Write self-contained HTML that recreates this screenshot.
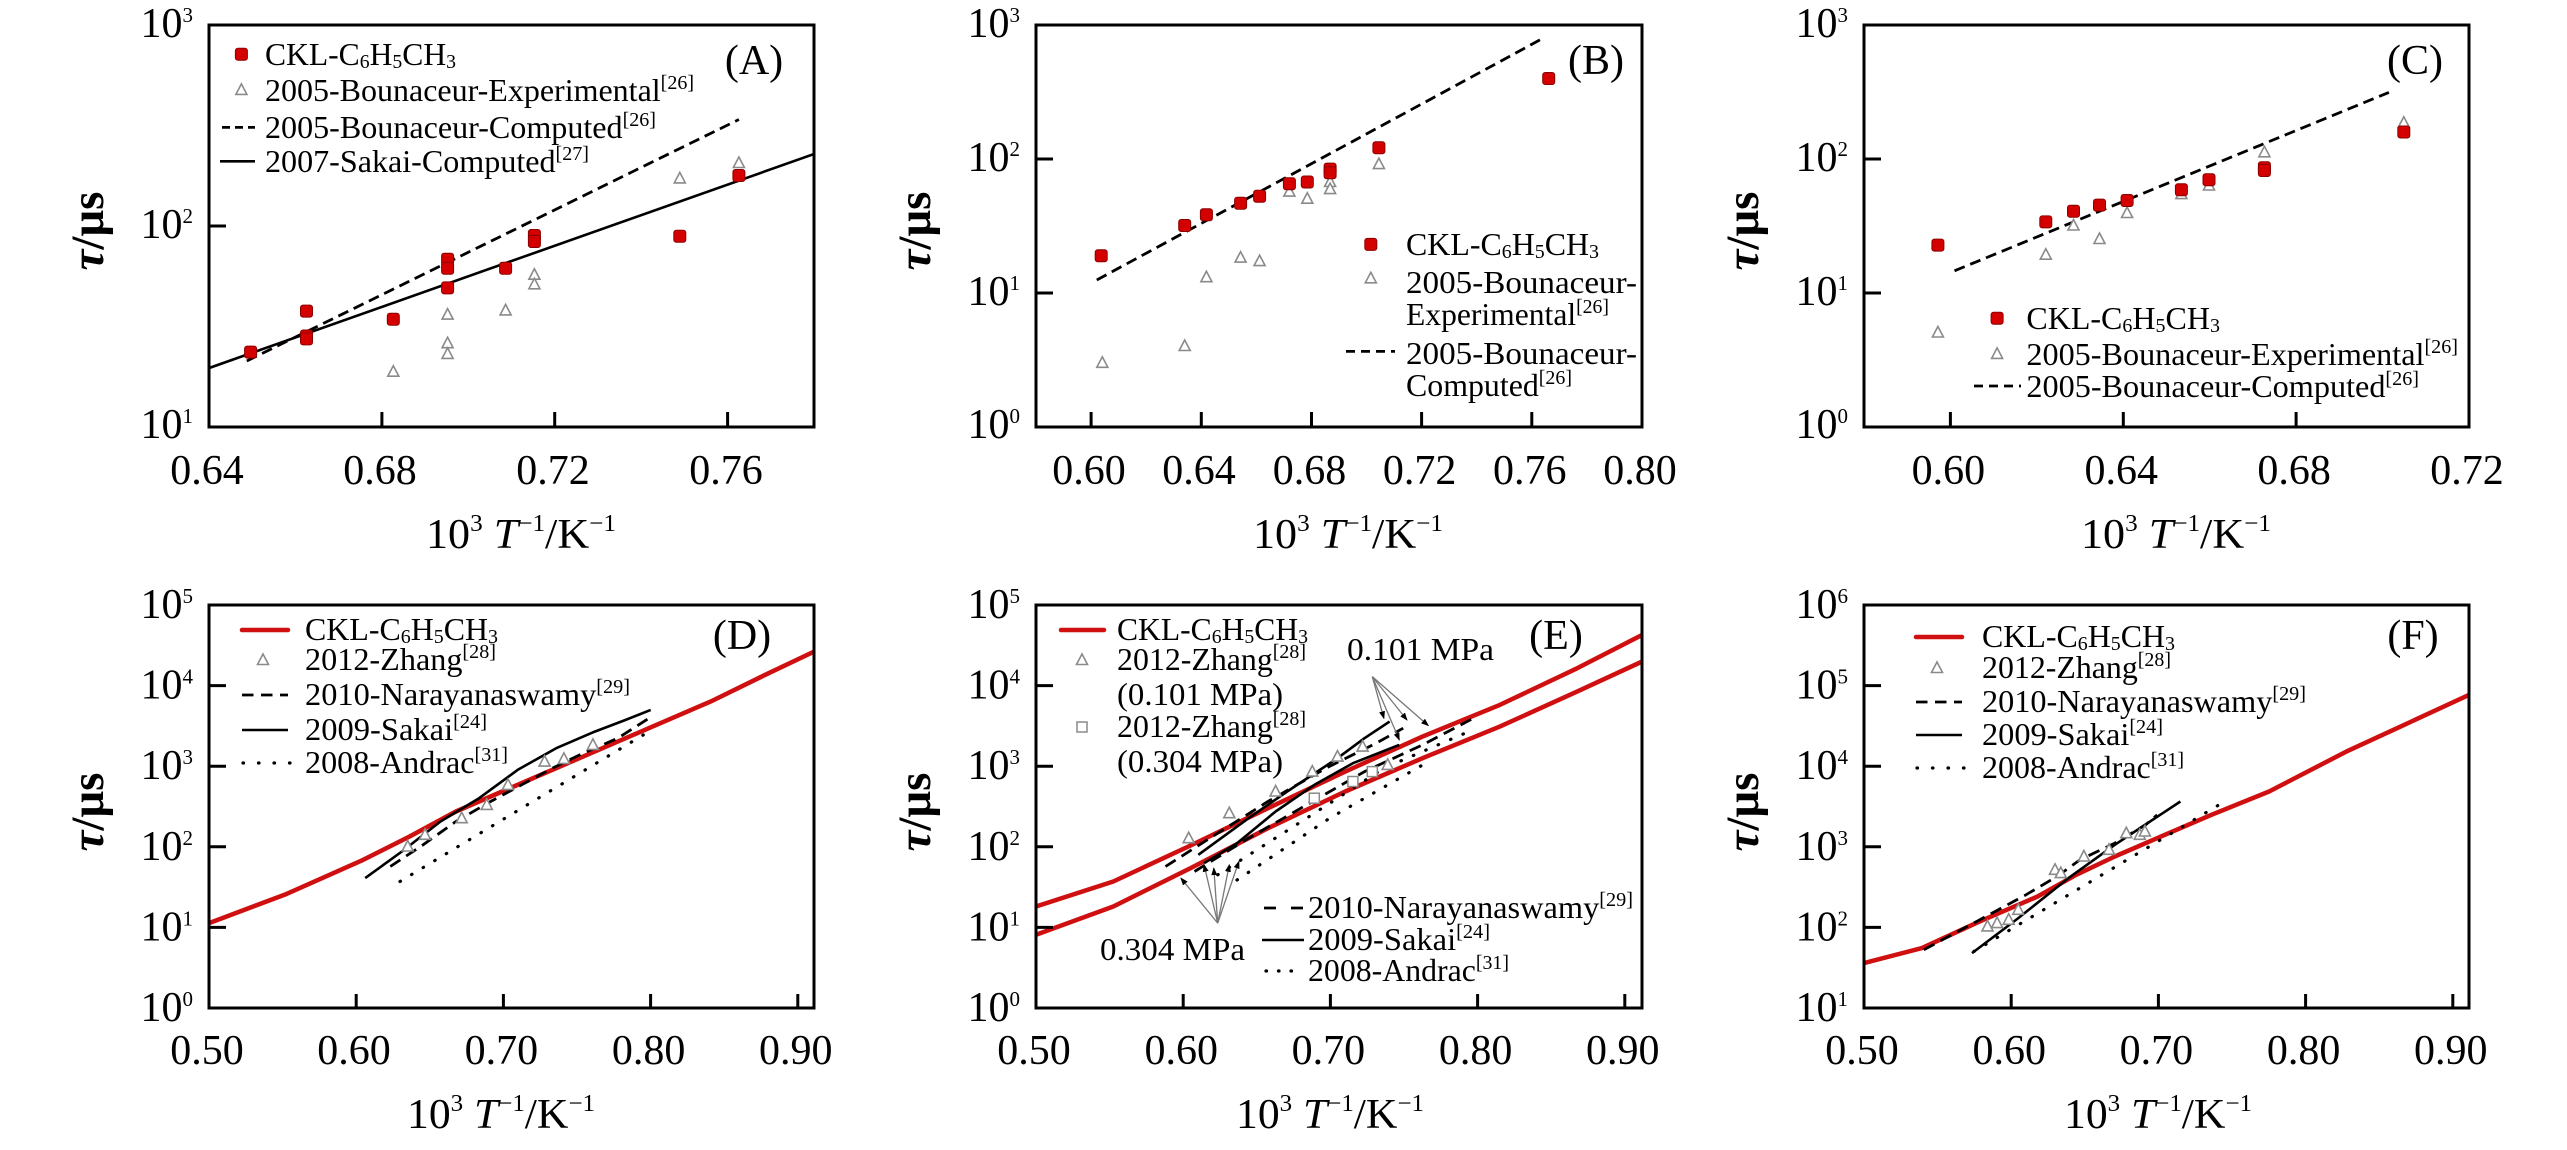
<!DOCTYPE html>
<html>
<head>
<meta charset="utf-8">
<style>
html,body{margin:0;padding:0;background:#fff;}
svg{display:block;}
text{font-family:"Liberation Serif","Times New Roman",serif;fill:#000;}
.tk{font-size:42px;}
.sp{font-size:21px;}
.xt{font-size:42px;}
.s2{font-size:24px;}
.yt{font-size:47px;font-weight:bold;}
.lg{font-size:32px;}
.su{font-size:20px;}
.sb{font-size:20px;}
.pl{font-size:42px;}
.box{fill:none;stroke:#000;stroke-width:3;}
.tm{stroke:#000;stroke-width:3;}
.red{fill:none;stroke:#d01010;stroke-width:4.5;stroke-linejoin:round;stroke-linecap:round;}
.sol{fill:none;stroke:#000;stroke-width:2.6;stroke-linejoin:round;}
.dsh{fill:none;stroke:#000;stroke-width:2.8;stroke-dasharray:12 7;}
.dot{fill:none;stroke:#000;stroke-width:3.2;stroke-dasharray:0.5 13;stroke-linecap:round;}
.ann{fill:none;stroke:#777;stroke-width:1.3;}
</style>
</head>
<body>
<svg width="2567" height="1150" viewBox="0 0 2567 1150" xmlns="http://www.w3.org/2000/svg">
<defs>
  <g id="sq"><rect x="-6" y="-6" width="12" height="12" rx="2.5" fill="#d40000" stroke="#8a0000" stroke-width="1"/></g>
  <g id="tri"><path d="M0,-6 L5.5,4.5 L-5.5,4.5 Z" fill="#fff" stroke="#8a8a8a" stroke-width="1.6"/></g>
  <g id="sqo"><rect x="-5" y="-5" width="10" height="10" fill="#fff" stroke="#8a8a8a" stroke-width="1.5"/></g>
  <marker id="ah" markerWidth="8" markerHeight="8" refX="7" refY="4" orient="auto" markerUnits="userSpaceOnUse">
    <path d="M0,1 L8,4 L0,7 Z" fill="#000"/>
  </marker>
  <clipPath id="cA"><rect x="209" y="25" width="605" height="402"/></clipPath>
  <clipPath id="cB"><rect x="1036" y="25" width="606" height="402"/></clipPath>
  <clipPath id="cC"><rect x="1864" y="25" width="605" height="402"/></clipPath>
  <clipPath id="cD"><rect x="209" y="605" width="605" height="403"/></clipPath>
  <clipPath id="cE"><rect x="1036" y="605" width="606" height="403"/></clipPath>
  <clipPath id="cF"><rect x="1864" y="605" width="605" height="403"/></clipPath>
</defs>

<!-- ================= PANEL A ================= -->
<g>
  <g clip-path="url(#cA)">
    <polyline class="sol" points="208.9,368.1 813.8,154.1"/>
    <polyline class="dsh" style="stroke-dasharray:11 6" points="246.8,361 738.9,119.5"/>
    <use href="#tri" x="393.3" y="371.7"/>
    <use href="#tri" x="447.6" y="314.6"/>
    <use href="#tri" x="447.6" y="343.2"/>
    <use href="#tri" x="447.6" y="353.9"/>
    <use href="#tri" x="505.6" y="310.4"/>
    <use href="#tri" x="534.4" y="274.7"/>
    <use href="#tri" x="534.4" y="284.3"/>
    <use href="#tri" x="679.8" y="178.4"/>
    <use href="#tri" x="738.9" y="163"/>
    <use href="#sq" x="250.6" y="352.1"/>
    <use href="#sq" x="306.5" y="311.1"/>
    <use href="#sq" x="306.5" y="336"/>
    <use href="#sq" x="306.5" y="338.9"/>
    <use href="#sq" x="393.3" y="319.3"/>
    <use href="#sq" x="447.6" y="259.3"/>
    <use href="#sq" x="447.6" y="268.3"/>
    <use href="#sq" x="447.6" y="287.9"/>
    <use href="#sq" x="505.6" y="268.3"/>
    <use href="#sq" x="534.4" y="235.5"/>
    <use href="#sq" x="534.4" y="241.5"/>
    <use href="#sq" x="679.8" y="236.2"/>
    <use href="#sq" x="738.9" y="175.5"/>
  </g>
  <rect class="box" x="209" y="25" width="605" height="402"/>
  <line class="tm" x1="381.9" y1="427" x2="381.9" y2="412"/>
  <line class="tm" x1="554.7" y1="427" x2="554.7" y2="412"/>
  <line class="tm" x1="727.6" y1="427" x2="727.6" y2="412"/>
  <line class="tm" x1="209" y1="226" x2="226" y2="226"/>
  <text class="tk" x="207" y="484" text-anchor="middle">0.64</text>
  <text class="tk" x="380" y="484" text-anchor="middle">0.68</text>
  <text class="tk" x="553" y="484" text-anchor="middle">0.72</text>
  <text class="tk" x="726" y="484" text-anchor="middle">0.76</text>
  <text class="tk" x="193" y="37" text-anchor="end">10<tspan class="sp" dy="-15">3</tspan></text>
  <text class="tk" x="193" y="238" text-anchor="end">10<tspan class="sp" dy="-15">2</tspan></text>
  <text class="tk" x="193" y="438" text-anchor="end">10<tspan class="sp" dy="-15">1</tspan></text>
  <text class="yt" transform="translate(103,231) rotate(-90)" text-anchor="middle"><tspan font-style="italic">τ</tspan>/μs</text>
  <text class="xt" x="521" y="548" text-anchor="middle" textLength="190" lengthAdjust="spacingAndGlyphs">10<tspan class="s2" dy="-17">3</tspan><tspan dy="17" font-style="italic"> T</tspan><tspan class="s2" dy="-17">−1</tspan><tspan dy="17">/K</tspan><tspan class="s2" dy="-17">−1</tspan></text>
  <text class="pl" x="754" y="74" text-anchor="middle">(A)</text>
  <!-- legend -->
  <use href="#sq" x="241.4" y="54.2"/>
  <text class="lg" x="265" y="65" textLength="191" lengthAdjust="spacingAndGlyphs">CKL-C<tspan class="sb" dy="3">6</tspan><tspan dy="-3">H</tspan><tspan class="sb" dy="3">5</tspan><tspan dy="-3">CH</tspan><tspan class="sb" dy="3">3</tspan></text>
  <use href="#tri" x="241.4" y="89.9"/>
  <text class="lg" x="265" y="101" textLength="429" lengthAdjust="spacingAndGlyphs">2005-Bounaceur-Experimental<tspan class="su" dy="-12">[26]</tspan></text>
  <line class="dsh" style="stroke-dasharray:8 5" x1="222" y1="127.4" x2="255" y2="127.4"/>
  <text class="lg" x="265" y="138" textLength="391" lengthAdjust="spacingAndGlyphs">2005-Bounaceur-Computed<tspan class="su" dy="-12">[26]</tspan></text>
  <line class="sol" x1="220" y1="161.3" x2="255" y2="161.3"/>
  <text class="lg" x="265" y="172" textLength="324" lengthAdjust="spacingAndGlyphs">2007-Sakai-Computed<tspan class="su" dy="-12">[27]</tspan></text>
</g>

<!-- ================= PANEL B ================= -->
<g>
  <g clip-path="url(#cB)">
    <polyline class="dsh" style="stroke-dasharray:11 6" points="1096.8,280 1544.4,37.5"/>
    <use href="#tri" x="1102.3" y="362.8"/>
    <use href="#tri" x="1184.7" y="346"/>
    <use href="#tri" x="1206.4" y="277.2"/>
    <use href="#tri" x="1240.6" y="257.6"/>
    <use href="#tri" x="1259.6" y="261.1"/>
    <use href="#tri" x="1289.4" y="191.6"/>
    <use href="#tri" x="1307.3" y="198.7"/>
    <use href="#tri" x="1330.1" y="182"/>
    <use href="#tri" x="1330.1" y="189.1"/>
    <use href="#tri" x="1378.9" y="164.1"/>
    <use href="#sq" x="1101.2" y="255.8"/>
    <use href="#sq" x="1184.7" y="225.5"/>
    <use href="#sq" x="1206.4" y="214.8"/>
    <use href="#sq" x="1240.6" y="203.3"/>
    <use href="#sq" x="1259.6" y="196.2"/>
    <use href="#sq" x="1289.4" y="183.7"/>
    <use href="#sq" x="1307.3" y="182"/>
    <use href="#sq" x="1330.1" y="169.1"/>
    <use href="#sq" x="1330.1" y="172.7"/>
    <use href="#sq" x="1378.9" y="147.7"/>
    <use href="#sq" x="1548.7" y="78.5"/>
  </g>
  <rect class="box" x="1036" y="25" width="606" height="402"/>
  <line class="tm" x1="1091.1" y1="427" x2="1091.1" y2="412"/>
  <line class="tm" x1="1201.3" y1="427" x2="1201.3" y2="412"/>
  <line class="tm" x1="1311.5" y1="427" x2="1311.5" y2="412"/>
  <line class="tm" x1="1421.6" y1="427" x2="1421.6" y2="412"/>
  <line class="tm" x1="1531.8" y1="427" x2="1531.8" y2="412"/>
  <line class="tm" x1="1036" y1="159" x2="1053" y2="159"/>
  <line class="tm" x1="1036" y1="293" x2="1053" y2="293"/>
  <text class="tk" x="1089" y="484" text-anchor="middle">0.60</text>
  <text class="tk" x="1199" y="484" text-anchor="middle">0.64</text>
  <text class="tk" x="1309.5" y="484" text-anchor="middle">0.68</text>
  <text class="tk" x="1419.6" y="484" text-anchor="middle">0.72</text>
  <text class="tk" x="1529.8" y="484" text-anchor="middle">0.76</text>
  <text class="tk" x="1640" y="484" text-anchor="middle">0.80</text>
  <text class="tk" x="1020" y="37" text-anchor="end">10<tspan class="sp" dy="-15">3</tspan></text>
  <text class="tk" x="1020" y="171" text-anchor="end">10<tspan class="sp" dy="-15">2</tspan></text>
  <text class="tk" x="1020" y="305" text-anchor="end">10<tspan class="sp" dy="-15">1</tspan></text>
  <text class="tk" x="1020" y="438" text-anchor="end">10<tspan class="sp" dy="-15">0</tspan></text>
  <text class="yt" transform="translate(930,231) rotate(-90)" text-anchor="middle"><tspan font-style="italic">τ</tspan>/μs</text>
  <text class="xt" x="1348" y="548" text-anchor="middle" textLength="190" lengthAdjust="spacingAndGlyphs">10<tspan class="s2" dy="-17">3</tspan><tspan dy="17" font-style="italic"> T</tspan><tspan class="s2" dy="-17">−1</tspan><tspan dy="17">/K</tspan><tspan class="s2" dy="-17">−1</tspan></text>
  <text class="pl" x="1596" y="74" text-anchor="middle">(B)</text>
  <!-- legend -->
  <use href="#sq" x="1370.8" y="244.4"/>
  <text class="lg" x="1406" y="255" textLength="193" lengthAdjust="spacingAndGlyphs">CKL-C<tspan class="sb" dy="3">6</tspan><tspan dy="-3">H</tspan><tspan class="sb" dy="3">5</tspan><tspan dy="-3">CH</tspan><tspan class="sb" dy="3">3</tspan></text>
  <use href="#tri" x="1370.8" y="278.3"/>
  <text class="lg" x="1406" y="293" textLength="231" lengthAdjust="spacingAndGlyphs">2005-Bounaceur-</text>
  <text class="lg" x="1406" y="325" textLength="203" lengthAdjust="spacingAndGlyphs">Experimental<tspan class="su" dy="-12">[26]</tspan></text>
  <line class="dsh" style="stroke-dasharray:9 6" x1="1346" y1="351.4" x2="1395" y2="351.4"/>
  <text class="lg" x="1406" y="364" textLength="231" lengthAdjust="spacingAndGlyphs">2005-Bounaceur-</text>
  <text class="lg" x="1406" y="396" textLength="166" lengthAdjust="spacingAndGlyphs">Computed<tspan class="su" dy="-12">[26]</tspan></text>
</g>

<!-- ================= PANEL C ================= -->
<g>
  <g clip-path="url(#cC)">
    <polyline class="dsh" style="stroke-dasharray:11 6" points="1954.5,270.8 2388.9,92.4"/>
    <use href="#tri" x="1937.9" y="332.5"/>
    <use href="#tri" x="2045.8" y="254.7"/>
    <use href="#tri" x="2073.5" y="225.5"/>
    <use href="#tri" x="2099.5" y="239"/>
    <use href="#tri" x="2127.1" y="213"/>
    <use href="#tri" x="2181.4" y="194.1"/>
    <use href="#tri" x="2209" y="185.5"/>
    <use href="#tri" x="2264.4" y="152.3"/>
    <use href="#tri" x="2403.8" y="122.7"/>
    <use href="#sq" x="1937.9" y="245.1"/>
    <use href="#sq" x="2045.8" y="221.9"/>
    <use href="#sq" x="2073.5" y="211.2"/>
    <use href="#sq" x="2099.5" y="205.1"/>
    <use href="#sq" x="2127.1" y="200.5"/>
    <use href="#sq" x="2181.4" y="189.8"/>
    <use href="#sq" x="2209" y="179.8"/>
    <use href="#sq" x="2264.4" y="167.7"/>
    <use href="#sq" x="2264.4" y="170.5"/>
    <use href="#sq" x="2403.8" y="132"/>
  </g>
  <rect class="box" x="1864" y="25" width="605" height="402"/>
  <line class="tm" x1="1950.4" y1="427" x2="1950.4" y2="412"/>
  <line class="tm" x1="2123.3" y1="427" x2="2123.3" y2="412"/>
  <line class="tm" x1="2296.1" y1="427" x2="2296.1" y2="412"/>
  <line class="tm" x1="1864" y1="159" x2="1881" y2="159"/>
  <line class="tm" x1="1864" y1="293" x2="1881" y2="293"/>
  <text class="tk" x="1948.4" y="484" text-anchor="middle">0.60</text>
  <text class="tk" x="2121.3" y="484" text-anchor="middle">0.64</text>
  <text class="tk" x="2294.1" y="484" text-anchor="middle">0.68</text>
  <text class="tk" x="2467" y="484" text-anchor="middle">0.72</text>
  <text class="tk" x="1848" y="37" text-anchor="end">10<tspan class="sp" dy="-15">3</tspan></text>
  <text class="tk" x="1848" y="171" text-anchor="end">10<tspan class="sp" dy="-15">2</tspan></text>
  <text class="tk" x="1848" y="305" text-anchor="end">10<tspan class="sp" dy="-15">1</tspan></text>
  <text class="tk" x="1848" y="438" text-anchor="end">10<tspan class="sp" dy="-15">0</tspan></text>
  <text class="yt" transform="translate(1758,231) rotate(-90)" text-anchor="middle"><tspan font-style="italic">τ</tspan>/μs</text>
  <text class="xt" x="2176" y="548" text-anchor="middle" textLength="190" lengthAdjust="spacingAndGlyphs">10<tspan class="s2" dy="-17">3</tspan><tspan dy="17" font-style="italic"> T</tspan><tspan class="s2" dy="-17">−1</tspan><tspan dy="17">/K</tspan><tspan class="s2" dy="-17">−1</tspan></text>
  <text class="pl" x="2415" y="74" text-anchor="middle">(C)</text>
  <!-- legend -->
  <use href="#sq" x="1997.1" y="318.2"/>
  <text class="lg" x="2026.4" y="329" textLength="193.6" lengthAdjust="spacingAndGlyphs">CKL-C<tspan class="sb" dy="3">6</tspan><tspan dy="-3">H</tspan><tspan class="sb" dy="3">5</tspan><tspan dy="-3">CH</tspan><tspan class="sb" dy="3">3</tspan></text>
  <use href="#tri" x="1997.1" y="353.9"/>
  <text class="lg" x="2026.4" y="365" textLength="431.6" lengthAdjust="spacingAndGlyphs">2005-Bounaceur-Experimental<tspan class="su" dy="-12">[26]</tspan></text>
  <line class="dsh" style="stroke-dasharray:9 6" x1="1974" y1="386" x2="2021" y2="386"/>
  <text class="lg" x="2026.4" y="397" textLength="392.6" lengthAdjust="spacingAndGlyphs">2005-Bounaceur-Computed<tspan class="su" dy="-12">[26]</tspan></text>
</g>

<!-- ================= PANEL D ================= -->
<g>
  <g clip-path="url(#cD)">
    <polyline class="red" points="209,923.1 286.2,894.1 363.3,859.8 409.6,836.5 455.9,811.5 502.2,791.5 556.2,768.2 648.8,728.2 710.5,701.6 768.4,673.3 814,651.6"/>
    <polyline class="sol" points="365.2,878.1 401.9,851.5 440.5,821.5 479.1,798.2 517.6,769.9 556.2,748.2 594.8,731.6 625.7,719.9 650.7,709.9"/>
    <polyline class="dsh" points="390.3,866.5 423.1,844.8 455.9,821.5 490.6,801.5 521.5,784.9 552.4,768.2 583.2,753.2 617.9,738.2 648.8,718.3"/>
    <polyline class="dot" points="400,881.5 648.8,731.6"/>
    <use href="#tri" x="407.7" y="846.5"/>
    <use href="#tri" x="425" y="834.8"/>
    <use href="#tri" x="461.7" y="818.2"/>
    <use href="#tri" x="486.8" y="804.9"/>
    <use href="#tri" x="508" y="784.9"/>
    <use href="#tri" x="544.6" y="761.6"/>
    <use href="#tri" x="563.9" y="758.9"/>
    <use href="#tri" x="592.9" y="744.9"/>
  </g>
  <rect class="box" x="209" y="605" width="605" height="403"/>
  <line class="tm" x1="356.2" y1="1008" x2="356.2" y2="994"/>
  <line class="tm" x1="503.4" y1="1008" x2="503.4" y2="994"/>
  <line class="tm" x1="650.6" y1="1008" x2="650.6" y2="994"/>
  <line class="tm" x1="797.8" y1="1008" x2="797.8" y2="994"/>
  <line class="tm" x1="209" y1="685.6" x2="226" y2="685.6"/>
  <line class="tm" x1="209" y1="766.2" x2="226" y2="766.2"/>
  <line class="tm" x1="209" y1="846.8" x2="226" y2="846.8"/>
  <line class="tm" x1="209" y1="927.4" x2="226" y2="927.4"/>
  <text class="tk" x="207" y="1064" text-anchor="middle">0.50</text>
  <text class="tk" x="354" y="1064" text-anchor="middle">0.60</text>
  <text class="tk" x="501.4" y="1064" text-anchor="middle">0.70</text>
  <text class="tk" x="648.6" y="1064" text-anchor="middle">0.80</text>
  <text class="tk" x="795.8" y="1064" text-anchor="middle">0.90</text>
  <text class="tk" x="193" y="618" text-anchor="end">10<tspan class="sp" dy="-15">5</tspan></text>
  <text class="tk" x="193" y="698.6" text-anchor="end">10<tspan class="sp" dy="-15">4</tspan></text>
  <text class="tk" x="193" y="779.2" text-anchor="end">10<tspan class="sp" dy="-15">3</tspan></text>
  <text class="tk" x="193" y="859.8" text-anchor="end">10<tspan class="sp" dy="-15">2</tspan></text>
  <text class="tk" x="193" y="940.4" text-anchor="end">10<tspan class="sp" dy="-15">1</tspan></text>
  <text class="tk" x="193" y="1021" text-anchor="end">10<tspan class="sp" dy="-15">0</tspan></text>
  <text class="yt" transform="translate(103,812) rotate(-90)" text-anchor="middle"><tspan font-style="italic">τ</tspan>/μs</text>
  <text class="xt" x="501" y="1128" text-anchor="middle" textLength="188" lengthAdjust="spacingAndGlyphs">10<tspan class="s2" dy="-17">3</tspan><tspan dy="17" font-style="italic"> T</tspan><tspan class="s2" dy="-17">−1</tspan><tspan dy="17">/K</tspan><tspan class="s2" dy="-17">−1</tspan></text>
  <text class="pl" x="742" y="649" text-anchor="middle">(D)</text>
  <!-- legend -->
  <line class="red" x1="242" y1="630" x2="288" y2="630"/>
  <text class="lg" x="305" y="640" textLength="193" lengthAdjust="spacingAndGlyphs">CKL-C<tspan class="sb" dy="3">6</tspan><tspan dy="-3">H</tspan><tspan class="sb" dy="3">5</tspan><tspan dy="-3">CH</tspan><tspan class="sb" dy="3">3</tspan></text>
  <use href="#tri" x="263" y="660"/>
  <text class="lg" x="305" y="670" textLength="191" lengthAdjust="spacingAndGlyphs">2012-Zhang<tspan class="su" dy="-12">[28]</tspan></text>
  <line class="dsh" style="stroke-dasharray:11.5 7.5" x1="242" y1="695" x2="288" y2="695"/>
  <text class="lg" x="305" y="705" textLength="325" lengthAdjust="spacingAndGlyphs">2010-Narayanaswamy<tspan class="su" dy="-12">[29]</tspan></text>
  <line class="sol" x1="242" y1="730" x2="288" y2="730"/>
  <text class="lg" x="305" y="740" textLength="182" lengthAdjust="spacingAndGlyphs">2009-Sakai<tspan class="su" dy="-12">[24]</tspan></text>
  <line class="dot" style="stroke-dasharray:0.5 15" x1="243" y1="763" x2="290" y2="763"/>
  <text class="lg" x="305" y="773" textLength="203" lengthAdjust="spacingAndGlyphs">2008-Andrac<tspan class="su" dy="-12">[31]</tspan></text>
</g>

<!-- ================= PANEL E ================= -->
<g>
  <g clip-path="url(#cE)">
    <polyline class="red" points="1036,906.5 1113.3,881.5 1190.6,845.5 1267.9,808.2 1345.2,771.6 1422.5,736.6 1499.8,704.9 1577.1,668.3 1642,635"/>
    <polyline class="red" points="1036,934.8 1113.3,906.5 1190.6,868.1 1267.9,828.2 1345.2,791.5 1422.5,758.2 1499.8,726.6 1577.1,691.6 1642,661.6"/>
    <polyline class="sol" points="1198.3,854.8 1248.6,818.2 1287.2,791.5 1337.5,758.2 1364.5,738.2 1389.6,721.6"/>
    <polyline class="sol" points="1204.1,863.2 1237,843.2 1275.6,811.5 1314.3,784.9 1352.9,763.2 1399.3,744.9"/>
    <polyline class="dsh" points="1165.5,866.5 1209.9,838.2 1267.9,801.5 1325.9,768.2 1376.1,743.2 1403.2,728.2"/>
    <polyline class="dsh" points="1194.5,871.5 1248.6,838.2 1306.6,804.9 1364.5,771.6 1422.5,744.9 1476.6,716.6"/>
    <polyline class="dot" points="1217.7,874.8 1306.6,818.2 1383.9,768.2 1472.7,729.9"/>
    <polyline class="dot" points="1237,880 1330,818 1422.5,765"/>
    <use href="#tri" x="1188.7" y="838.2"/>
    <use href="#tri" x="1229.3" y="813.2"/>
    <use href="#tri" x="1275.6" y="791.5"/>
    <use href="#tri" x="1312.3" y="771.6"/>
    <use href="#tri" x="1337.5" y="756.6"/>
    <use href="#tri" x="1362.6" y="746.6"/>
    <use href="#tri" x="1387.7" y="764.9"/>
    <use href="#sqo" x="1314.3" y="798.2"/>
    <use href="#sqo" x="1352.9" y="781.5"/>
    <use href="#sqo" x="1372.3" y="771.6"/>
    <!-- annotations -->
    <line class="ann" x1="1372.3" y1="676.6" x2="1383.9" y2="718.3" marker-end="url(#ah)"/>
    <line class="ann" x1="1372.3" y1="676.6" x2="1399.3" y2="739.9" marker-end="url(#ah)"/>
    <line class="ann" x1="1372.3" y1="676.6" x2="1407" y2="720" marker-end="url(#ah)"/>
    <line class="ann" x1="1372.3" y1="676.6" x2="1428.3" y2="725.6" marker-end="url(#ah)"/>
    <line class="ann" x1="1217.7" y1="923.1" x2="1180.9" y2="878.1" marker-end="url(#ah)"/>
    <line class="ann" x1="1217.7" y1="923.1" x2="1204.1" y2="864.8" marker-end="url(#ah)"/>
    <line class="ann" x1="1217.7" y1="923.1" x2="1213.8" y2="868.1" marker-end="url(#ah)"/>
    <line class="ann" x1="1217.7" y1="923.1" x2="1229.3" y2="864.8" marker-end="url(#ah)"/>
    <line class="ann" x1="1217.7" y1="923.1" x2="1238.9" y2="861.5" marker-end="url(#ah)"/>
  </g>
  <rect class="box" x="1036" y="605" width="606" height="403"/>
  <line class="tm" x1="1183.2" y1="1008" x2="1183.2" y2="994"/>
  <line class="tm" x1="1330.4" y1="1008" x2="1330.4" y2="994"/>
  <line class="tm" x1="1477.6" y1="1008" x2="1477.6" y2="994"/>
  <line class="tm" x1="1624.8" y1="1008" x2="1624.8" y2="994"/>
  <line class="tm" x1="1036" y1="685.6" x2="1053" y2="685.6"/>
  <line class="tm" x1="1036" y1="766.2" x2="1053" y2="766.2"/>
  <line class="tm" x1="1036" y1="846.8" x2="1053" y2="846.8"/>
  <line class="tm" x1="1036" y1="927.4" x2="1053" y2="927.4"/>
  <text class="tk" x="1034" y="1064" text-anchor="middle">0.50</text>
  <text class="tk" x="1181.2" y="1064" text-anchor="middle">0.60</text>
  <text class="tk" x="1328.4" y="1064" text-anchor="middle">0.70</text>
  <text class="tk" x="1475.6" y="1064" text-anchor="middle">0.80</text>
  <text class="tk" x="1622.8" y="1064" text-anchor="middle">0.90</text>
  <text class="tk" x="1020" y="618" text-anchor="end">10<tspan class="sp" dy="-15">5</tspan></text>
  <text class="tk" x="1020" y="698.6" text-anchor="end">10<tspan class="sp" dy="-15">4</tspan></text>
  <text class="tk" x="1020" y="779.2" text-anchor="end">10<tspan class="sp" dy="-15">3</tspan></text>
  <text class="tk" x="1020" y="859.8" text-anchor="end">10<tspan class="sp" dy="-15">2</tspan></text>
  <text class="tk" x="1020" y="940.4" text-anchor="end">10<tspan class="sp" dy="-15">1</tspan></text>
  <text class="tk" x="1020" y="1021" text-anchor="end">10<tspan class="sp" dy="-15">0</tspan></text>
  <text class="yt" transform="translate(930,812) rotate(-90)" text-anchor="middle"><tspan font-style="italic">τ</tspan>/μs</text>
  <text class="xt" x="1330" y="1128" text-anchor="middle" textLength="188" lengthAdjust="spacingAndGlyphs">10<tspan class="s2" dy="-17">3</tspan><tspan dy="17" font-style="italic"> T</tspan><tspan class="s2" dy="-17">−1</tspan><tspan dy="17">/K</tspan><tspan class="s2" dy="-17">−1</tspan></text>
  <text class="pl" x="1556" y="649" text-anchor="middle">(E)</text>
  <text class="lg" x="1347" y="660" textLength="147" lengthAdjust="spacingAndGlyphs">0.101 MPa</text>
  <text class="lg" x="1100" y="960" textLength="145" lengthAdjust="spacingAndGlyphs">0.304 MPa</text>
  <!-- legend left -->
  <line class="red" x1="1061" y1="630" x2="1104" y2="630"/>
  <text class="lg" x="1117" y="640" textLength="191" lengthAdjust="spacingAndGlyphs">CKL-C<tspan class="sb" dy="3">6</tspan><tspan dy="-3">H</tspan><tspan class="sb" dy="3">5</tspan><tspan dy="-3">CH</tspan><tspan class="sb" dy="3">3</tspan></text>
  <use href="#tri" x="1082" y="660"/>
  <text class="lg" x="1117" y="670" textLength="189" lengthAdjust="spacingAndGlyphs">2012-Zhang<tspan class="su" dy="-12">[28]</tspan></text>
  <text class="lg" x="1117" y="705" textLength="166" lengthAdjust="spacingAndGlyphs">(0.101 MPa)</text>
  <use href="#sqo" x="1082" y="727"/>
  <text class="lg" x="1117" y="737" textLength="189" lengthAdjust="spacingAndGlyphs">2012-Zhang<tspan class="su" dy="-12">[28]</tspan></text>
  <text class="lg" x="1117" y="772" textLength="166" lengthAdjust="spacingAndGlyphs">(0.304 MPa)</text>
  <!-- legend bottom right -->
  <line class="dsh" style="stroke-dasharray:12 15" x1="1264" y1="908" x2="1303" y2="908"/>
  <text class="lg" x="1308" y="918" textLength="325" lengthAdjust="spacingAndGlyphs">2010-Narayanaswamy<tspan class="su" dy="-12">[29]</tspan></text>
  <line class="sol" x1="1262" y1="940" x2="1304" y2="940"/>
  <text class="lg" x="1308" y="950" textLength="182" lengthAdjust="spacingAndGlyphs">2009-Sakai<tspan class="su" dy="-12">[24]</tspan></text>
  <line class="dot" style="stroke-dasharray:0.5 12" x1="1266" y1="971" x2="1303" y2="971"/>
  <text class="lg" x="1308" y="981" textLength="201" lengthAdjust="spacingAndGlyphs">2008-Andrac<tspan class="su" dy="-12">[31]</tspan></text>
</g>

<!-- ================= PANEL F ================= -->
<g>
  <g clip-path="url(#cF)">
    <polyline class="red" points="1864,963.1 1921.9,948.1 1979.7,921.4 2037.6,896.5 2076.2,874.8 2114.8,856.5 2164.9,834.8 2211.2,814.9 2269.1,791.5 2346.3,751.6 2404.1,724.9 2469,694.9"/>
    <polyline class="sol" points="1972,953.1 2018.3,918.1 2068.5,878.1 2114.8,844.8 2180.4,801.5"/>
    <polyline class="dsh" points="1923.8,949.8 1979.7,919.8 2026,894.8 2056.9,876.5 2080,859.8 2114.8,843.2 2145.6,824.8 2157.2,814.9"/>
    <polyline class="dot" points="1974,951.4 2218.9,804.9"/>
    <use href="#tri" x="1987.5" y="926.4"/>
    <use href="#tri" x="1997.1" y="923.1"/>
    <use href="#tri" x="2008.7" y="919.8"/>
    <use href="#tri" x="2018.3" y="909.8"/>
    <use href="#tri" x="2055" y="869.8"/>
    <use href="#tri" x="2060.8" y="873.1"/>
    <use href="#tri" x="2083.9" y="856.5"/>
    <use href="#tri" x="2109" y="849.8"/>
    <use href="#tri" x="2126.3" y="833.2"/>
    <use href="#tri" x="2139.8" y="834.8"/>
    <use href="#tri" x="2144.9" y="831.5"/>
  </g>
  <rect class="box" x="1864" y="605" width="605" height="403"/>
  <line class="tm" x1="2011.2" y1="1008" x2="2011.2" y2="994"/>
  <line class="tm" x1="2158.4" y1="1008" x2="2158.4" y2="994"/>
  <line class="tm" x1="2305.6" y1="1008" x2="2305.6" y2="994"/>
  <line class="tm" x1="2452.8" y1="1008" x2="2452.8" y2="994"/>
  <line class="tm" x1="1864" y1="685.6" x2="1881" y2="685.6"/>
  <line class="tm" x1="1864" y1="766.2" x2="1881" y2="766.2"/>
  <line class="tm" x1="1864" y1="846.8" x2="1881" y2="846.8"/>
  <line class="tm" x1="1864" y1="927.4" x2="1881" y2="927.4"/>
  <text class="tk" x="1862" y="1064" text-anchor="middle">0.50</text>
  <text class="tk" x="2009.2" y="1064" text-anchor="middle">0.60</text>
  <text class="tk" x="2156.4" y="1064" text-anchor="middle">0.70</text>
  <text class="tk" x="2303.6" y="1064" text-anchor="middle">0.80</text>
  <text class="tk" x="2450.8" y="1064" text-anchor="middle">0.90</text>
  <text class="tk" x="1848" y="618" text-anchor="end">10<tspan class="sp" dy="-15">6</tspan></text>
  <text class="tk" x="1848" y="698.6" text-anchor="end">10<tspan class="sp" dy="-15">5</tspan></text>
  <text class="tk" x="1848" y="779.2" text-anchor="end">10<tspan class="sp" dy="-15">4</tspan></text>
  <text class="tk" x="1848" y="859.8" text-anchor="end">10<tspan class="sp" dy="-15">3</tspan></text>
  <text class="tk" x="1848" y="940.4" text-anchor="end">10<tspan class="sp" dy="-15">2</tspan></text>
  <text class="tk" x="1848" y="1021" text-anchor="end">10<tspan class="sp" dy="-15">1</tspan></text>
  <text class="yt" transform="translate(1758,812) rotate(-90)" text-anchor="middle"><tspan font-style="italic">τ</tspan>/μs</text>
  <text class="xt" x="2158" y="1128" text-anchor="middle" textLength="188" lengthAdjust="spacingAndGlyphs">10<tspan class="s2" dy="-17">3</tspan><tspan dy="17" font-style="italic"> T</tspan><tspan class="s2" dy="-17">−1</tspan><tspan dy="17">/K</tspan><tspan class="s2" dy="-17">−1</tspan></text>
  <text class="pl" x="2413" y="649" text-anchor="middle">(F)</text>
  <!-- legend -->
  <line class="red" x1="1916" y1="637" x2="1962" y2="637"/>
  <text class="lg" x="1982" y="647" textLength="193" lengthAdjust="spacingAndGlyphs">CKL-C<tspan class="sb" dy="3">6</tspan><tspan dy="-3">H</tspan><tspan class="sb" dy="3">5</tspan><tspan dy="-3">CH</tspan><tspan class="sb" dy="3">3</tspan></text>
  <use href="#tri" x="1937" y="668"/>
  <text class="lg" x="1982" y="678" textLength="189" lengthAdjust="spacingAndGlyphs">2012-Zhang<tspan class="su" dy="-12">[28]</tspan></text>
  <line class="dsh" style="stroke-dasharray:11.5 7.5" x1="1916" y1="702" x2="1962" y2="702"/>
  <text class="lg" x="1982" y="712" textLength="324" lengthAdjust="spacingAndGlyphs">2010-Narayanaswamy<tspan class="su" dy="-12">[29]</tspan></text>
  <line class="sol" x1="1916" y1="735" x2="1962" y2="735"/>
  <text class="lg" x="1982" y="745" textLength="181" lengthAdjust="spacingAndGlyphs">2009-Sakai<tspan class="su" dy="-12">[24]</tspan></text>
  <line class="dot" style="stroke-dasharray:0.5 15" x1="1917" y1="768" x2="1964" y2="768"/>
  <text class="lg" x="1982" y="778" textLength="202" lengthAdjust="spacingAndGlyphs">2008-Andrac<tspan class="su" dy="-12">[31]</tspan></text>
</g>
</svg>
</body>
</html>
